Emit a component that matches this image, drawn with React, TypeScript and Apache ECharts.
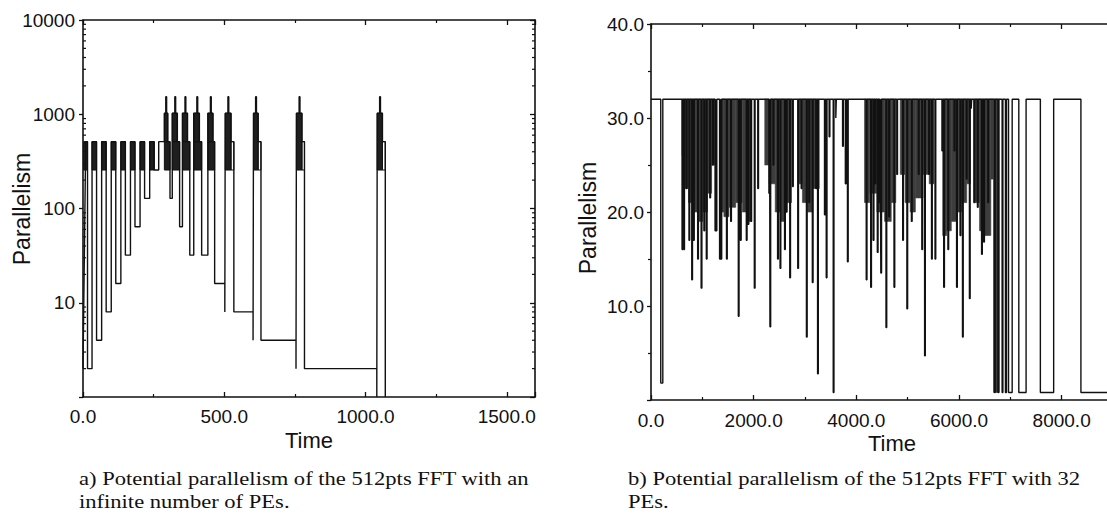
import React, { useEffect, useRef } from "react";
import * as echarts from "echarts";

// ---------- a) infinite number of PEs : parallelism profile (step, value holds until next time) ----------
const leftTimes = [
  0, 1.2, 2.4, 3.6, 4.8, 6, 7.2, 8.4, 9.6, 16, 32, 48, 66, 82, 100, 116, 134, 150, 168, 184, 202, 218, 236, 252, 268,
  288, 293, 296, 300, 308,
  316, 325, 328, 334, 342,
  352, 361, 364, 370, 378,
  392, 403, 406, 412, 420,
  442, 451, 454, 460, 466,
  502, 503.5, 513, 516, 524, 534,
  602, 603.5, 611, 614, 620, 630,
  754, 755.5, 765, 768, 775, 784,
  1040, 1041.5, 1050, 1053, 1060, 1070,
];
const leftValues = [
  2, 4, 8, 16, 32, 64, 128, 256, 512, 2, 512, 4, 512, 8, 512, 16, 512, 32, 512, 64, 512, 128, 512, 256, 512,
  1024, 1536, 1024, 512, 128,
  1024, 1536, 1024, 512, 64,
  1024, 1536, 1024, 512, 32,
  1024, 1536, 1024, 512, 32,
  1024, 1536, 1024, 512, 16,
  8, 1024, 1536, 1024, 512, 8,
  4, 1024, 1536, 1024, 512, 4,
  2, 1024, 1536, 1024, 512, 2,
  1, 1024, 1536, 1024, 512, 1,
];
// dense oscillation regions [t0, t1, low, high]
const leftDenseBlocks = [
  [2, 16, 256, 512], [32, 48, 256, 512], [66, 82, 256, 512], [100, 116, 256, 512],
  [134, 150, 256, 512], [168, 184, 256, 512], [202, 218, 256, 512], [236, 252, 256, 512],
  [288, 308, 256, 512], [288, 300, 512, 1024],
  [316, 342, 256, 512], [316, 334, 512, 1024],
  [352, 378, 256, 512], [352, 370, 512, 1024],
  [392, 420, 256, 512], [392, 412, 512, 1024],
  [442, 466, 256, 512], [442, 460, 512, 1024],
  [503.5, 524, 256, 1024], [603.5, 620, 256, 1024], [755.5, 775, 256, 1024], [1041.5, 1060, 256, 1024],
];
const leftOpenBlocks = [
  [524, 534, 256, 512], [620, 630, 256, 512], [775, 784, 256, 512], [1060, 1070, 256, 512],
];
const leftXTicks = [0, 500, 1000, 1500];
const leftYTicks = [10, 100, 1000, 10000];
const leftMinorTicks = [
  2, 3, 4, 5, 6, 7, 8, 9, 20, 30, 40, 50, 60, 70, 80, 90,
  200, 300, 400, 500, 600, 700, 800, 900, 2000, 3000, 4000, 5000, 6000, 7000, 8000, 9000,
];

// ---------- b) 32 PEs ----------
const rightPEs = 32;
const rightDipTimes = [
  190, 605, 638, 686, 740, 794, 828, 909, 977, 1031, 1078, 1146, 1200, 1248, 1268, 1336,
  1363, 1471, 1552, 1701, 1742, 1857, 1891, 1945, 2013, 2080,
  2297, 2317, 2378, 2466, 2514, 2602, 2636, 2703, 2757, 2859,
  2926, 3028, 3076, 3143, 3211, 3245, 3380, 3414, 3470, 3550, 3600, 3732, 3786, 3827,
  4193, 4280, 4328, 4362, 4409, 4450, 4477, 4578, 4633, 4734, 4788,
  4903, 4985, 5073, 5208, 5276, 5330, 5411, 5465, 5533, 5668,
  5702, 5784, 5905, 5953, 6021, 6068, 6142, 6203, 6237, 6291,
  6359, 6440, 6481, 6562, 6690, 6760, 6840, 6905, 6965, 7165, 7585, 8375,
];
const rightDipBottoms = [
  1.8, 16, 16, 22.5, 17, 12.8, 17, 15, 11.9, 18, 15, 21.5, 25, 18, 18, 15,
  15, 15, 19, 8.9, 17, 17, 18.7, 19, 11.9, 22.5,
  22, 7.8, 25, 15, 14, 16, 20, 13, 22.7, 14,
  22.5, 6.7, 21, 12.5, 22.5, 2.8, 19.7, 13, 28, 0.8, 30, 27, 23, 14.7,
  12.8, 12, 17, 23, 15.7, 21, 13.5, 7.7, 19.5, 12, 24,
  17, 9.7, 19, 24, 16, 4.7, 24, 15, 15, 26.5,
  12, 16, 26.5, 12, 17.5, 6.7, 23.5, 10.8, 31, 21,
  20.5, 15.5, 16.8, 21, 0.8, 0.8, 0.8, 0.8, 0.8, 0.8, 0.8, 0.8,
];
const rightDipDurations = [
  40, 14, 14, 14, 14, 14, 14, 14, 14, 14, 14, 14, 14, 14, 14, 14,
  14, 14, 14, 14, 14, 14, 14, 14, 14, 14,
  14, 14, 14, 14, 14, 14, 14, 14, 14, 14,
  14, 14, 14, 14, 14, 14, 14, 14, 14, 14, 10, 14, 14, 14,
  14, 14, 14, 14, 14, 14, 14, 14, 14, 14, 14,
  14, 14, 14, 14, 14, 14, 14, 14, 14, 14,
  14, 14, 14, 14, 14, 14, 14, 14, 10, 14,
  14, 14, 14, 14, 14, 14, 15, 20, 71, 142, 259, 700,
];
// dense regions [t0, t1, lowest value reached]
const rightDenseBlocks = [
  [605, 660, 26], [660, 730, 22.5], [730, 820, 21], [820, 920, 20], [920, 1010, 19], [1010, 1100, 20], [1100, 1180, 22], [1180, 1248, 25],
  [1349, 1420, 20], [1420, 1520, 19.5], [1520, 1650, 20.5], [1650, 1780, 21], [1780, 1880, 20], [1880, 1958, 19],
  [2216, 2300, 25], [2300, 2420, 23], [2420, 2520, 20], [2520, 2620, 19], [2620, 2737, 21],
  [2872, 2950, 23], [2950, 3050, 21], [3050, 3150, 20], [3150, 3278, 22.5],
  [4159, 4260, 21], [4260, 4400, 22], [4400, 4550, 20], [4550, 4680, 19], [4680, 4768, 21],
  [4856, 4950, 24], [4950, 5050, 21], [5050, 5150, 20], [5150, 5300, 21.5], [5300, 5420, 24], [5420, 5513, 23],
  [5682, 5760, 17.5], [5760, 5850, 18], [5850, 5950, 19], [5950, 6050, 20], [6050, 6150, 21], [6150, 6224, 23],
  [6291, 6400, 21], [6400, 6500, 18], [6500, 6620, 17.5], [6620, 6674, 23.5], [6674, 6784, 0.8],
];
const rightXTicks = [0, 2000, 4000, 6000, 8000];
const rightYTicks = [10, 20, 30, 40];

const LMAX = 1600;
const RMAX = 9000;
const SANS = '"Liberation Sans", Arial, Helvetica, sans-serif';
const SERIF = '"Liberation Serif", "Times New Roman", serif';
const INK = "#111";

function blockRenderer(fill: string, stroke: string | undefined) {
  return (_p: any, api: any) => {
    const a = api.coord([api.value(0), api.value(3)]);
    const b = api.coord([api.value(1), api.value(2)]);
    return {
      type: "rect",
      shape: { x: a[0], y: a[1], width: b[0] - a[0], height: b[1] - a[1] },
      style: stroke ? { fill, stroke, lineWidth: 1 } : { fill, stroke: fill, lineWidth: 0.6 },
    };
  };
}

export default function App() {
  const ref = useRef<HTMLDivElement>(null);
  useEffect(() => {
    if (!ref.current) return;
    const chart = echarts.init(ref.current, null, { renderer: "svg" });

    const leftLine = leftTimes.map((t, i) => [t, leftValues[i]]);
    const rightLine: number[][] = [[0, rightPEs]];
    rightDipTimes.forEach((t, i) => {
      rightLine.push([t, rightDipBottoms[i]]);
      rightLine.push([t + rightDipDurations[i], rightPEs]);
    });
    const rightBlocks = rightDenseBlocks.map((b) => [b[0], b[1], b[2], rightPEs]);

    const axisLine = { show: true, onZero: false, lineStyle: { color: INK, width: 1.6 } };
    const label = { color: INK, fontSize: 19, fontFamily: SANS };
    const tick = { inside: true, length: 5, lineStyle: { color: INK, width: 1.3 } };
    const minor = { show: true, splitNumber: 2, length: 3, lineStyle: { color: INK, width: 1.2 } };

    const caption = (x: number, y: number, text: string) => ({
      type: "text", x, y, scaleX: 1.14,
      style: { text, fontSize: 19.8, fontFamily: SERIF, fill: INK, align: "left", verticalAlign: "middle" },
    });
    const name = (x: number, y: number, text: string, vertical: boolean) => ({
      type: "text", x, y, rotation: vertical ? Math.PI / 2 : 0,
      style: { text, fontSize: vertical ? 23 : 22, fontFamily: SANS, fill: INK, align: "center", verticalAlign: "middle" },
    });

    const option: any = {
      animation: false,
      backgroundColor: "#fff",
      grid: [
        { left: 83, top: 20, width: 452, height: 377, outerBoundsMode: "none", containLabel: false },
        { left: 651, top: 24, width: 462, height: 376, outerBoundsMode: "none", containLabel: false },
      ],
      xAxis: [
        {
          type: "value", gridIndex: 0, position: "bottom", min: 0, max: LMAX, interval: 500,
          axisLine, splitLine: { show: false }, axisTick: tick, minorTick: minor,
          axisLabel: { ...label, margin: 10, formatter: (v: number) => (leftXTicks.includes(v) ? v.toFixed(1) : "") },
        },
        {
          type: "value", gridIndex: 0, position: "top", min: 0, max: LMAX, interval: 500,
          axisLine, splitLine: { show: false }, axisTick: tick, minorTick: minor, axisLabel: { show: false },
        },
        {
          type: "value", gridIndex: 1, position: "bottom", min: 0, max: RMAX, interval: 2000,
          axisLine, splitLine: { show: false }, axisTick: tick, minorTick: minor,
          axisLabel: { ...label, margin: 11, formatter: (v: number) => (rightXTicks.includes(v) ? v.toFixed(1) : "") },
        },
        {
          type: "value", gridIndex: 1, position: "top", min: 0, max: RMAX, interval: 2000,
          axisLine, splitLine: { show: false }, axisTick: tick, minorTick: minor, axisLabel: { show: false },
        },
      ],
      yAxis: [
        {
          type: "log", logBase: 10, gridIndex: 0, position: "left", min: 1, max: 10000,
          axisLine, splitLine: { show: false },
          axisTick: { inside: false, length: 4, lineStyle: { color: INK, width: 1.3 } },
          axisLabel: { ...label, margin: 8, formatter: (v: number) => (leftYTicks.includes(Math.round(v)) ? String(Math.round(v)) : "") },
        },
        {
          type: "log", logBase: 10, gridIndex: 0, position: "right", min: 1, max: 10000,
          axisLine, splitLine: { show: false }, axisTick: tick, axisLabel: { show: false },
        },
        {
          type: "value", gridIndex: 1, position: "left", min: 0, max: 40, interval: 10,
          axisLine, splitLine: { show: false },
          axisTick: { inside: false, length: 4, lineStyle: { color: INK, width: 1.3 } },
          minorTick: minor,
          axisLabel: { ...label, margin: 7, formatter: (v: number) => (rightYTicks.includes(v) ? v.toFixed(1) : "") },
        },
        {
          type: "value", gridIndex: 1, position: "right", min: 0, max: 40, interval: 10,
          axisLine, splitLine: { show: false }, axisTick: tick, minorTick: minor, axisLabel: { show: false },
        },
      ],
      series: [
        {
          type: "custom", xAxisIndex: 0, yAxisIndex: 0, silent: true, z: 1,
          data: leftDenseBlocks, encode: { x: [0, 1], y: [2, 3] },
          renderItem: blockRenderer("#1f1f1f", INK),
        },
        {
          type: "custom", xAxisIndex: 0, yAxisIndex: 0, silent: true, z: 1,
          data: leftOpenBlocks, encode: { x: [0, 1], y: [2, 3] },
          renderItem: blockRenderer("rgba(0,0,0,0)", INK),
        },
        {
          type: "line", xAxisIndex: 0, yAxisIndex: 0, step: "end", silent: true, z: 3,
          data: leftLine, showSymbol: false, symbol: "none",
          lineStyle: { color: INK, width: 1.4 },
        },
        {
          type: "custom", xAxisIndex: 0, yAxisIndex: 0, silent: true, z: 4,
          data: leftMinorTicks.map((v) => [0, v]), encode: { x: 0, y: 1 },
          renderItem: (_p: any, api: any) => {
            const v = api.value(1);
            const l = api.coord([0, v]);
            const r = api.coord([LMAX, v]);
            return {
              type: "group",
              children: [
                { type: "line", shape: { x1: l[0], y1: l[1], x2: l[0] + 3, y2: l[1] }, style: { stroke: INK, lineWidth: 1.2 } },
                { type: "line", shape: { x1: r[0] - 3, y1: r[1], x2: r[0], y2: r[1] }, style: { stroke: INK, lineWidth: 1.2 } },
              ],
            };
          },
        },
        {
          type: "custom", xAxisIndex: 2, yAxisIndex: 2, silent: true, z: 1,
          data: rightBlocks, encode: { x: [0, 1], y: [2, 3] },
          renderItem: blockRenderer("#3d3d3d", undefined),
        },
        {
          type: "line", xAxisIndex: 2, yAxisIndex: 2, step: "end", silent: true, z: 3,
          data: rightLine, showSymbol: false, symbol: "none",
          lineStyle: { color: INK, width: 1.4 },
        },
      ],
      graphic: [
        name(22, 209, "Parallelism", true),
        name(309, 440, "Time", false),
        name(588, 218, "Parallelism", true),
        name(892, 443, "Time", false),
        caption(79, 478, "a) Potential parallelism of the 512pts FFT with an"),
        caption(79, 501, "infinite number of PEs."),
        caption(628, 478, "b) Potential parallelism of the 512pts FFT with 32"),
        caption(628, 501, "PEs."),
      ],
    };
    chart.setOption(option);
    return () => chart.dispose();
  }, []);
  return <div ref={ref} style={{ position: "fixed", left: 0, top: 0, width: 1107, height: 518, background: "#fff" }} />;
}
